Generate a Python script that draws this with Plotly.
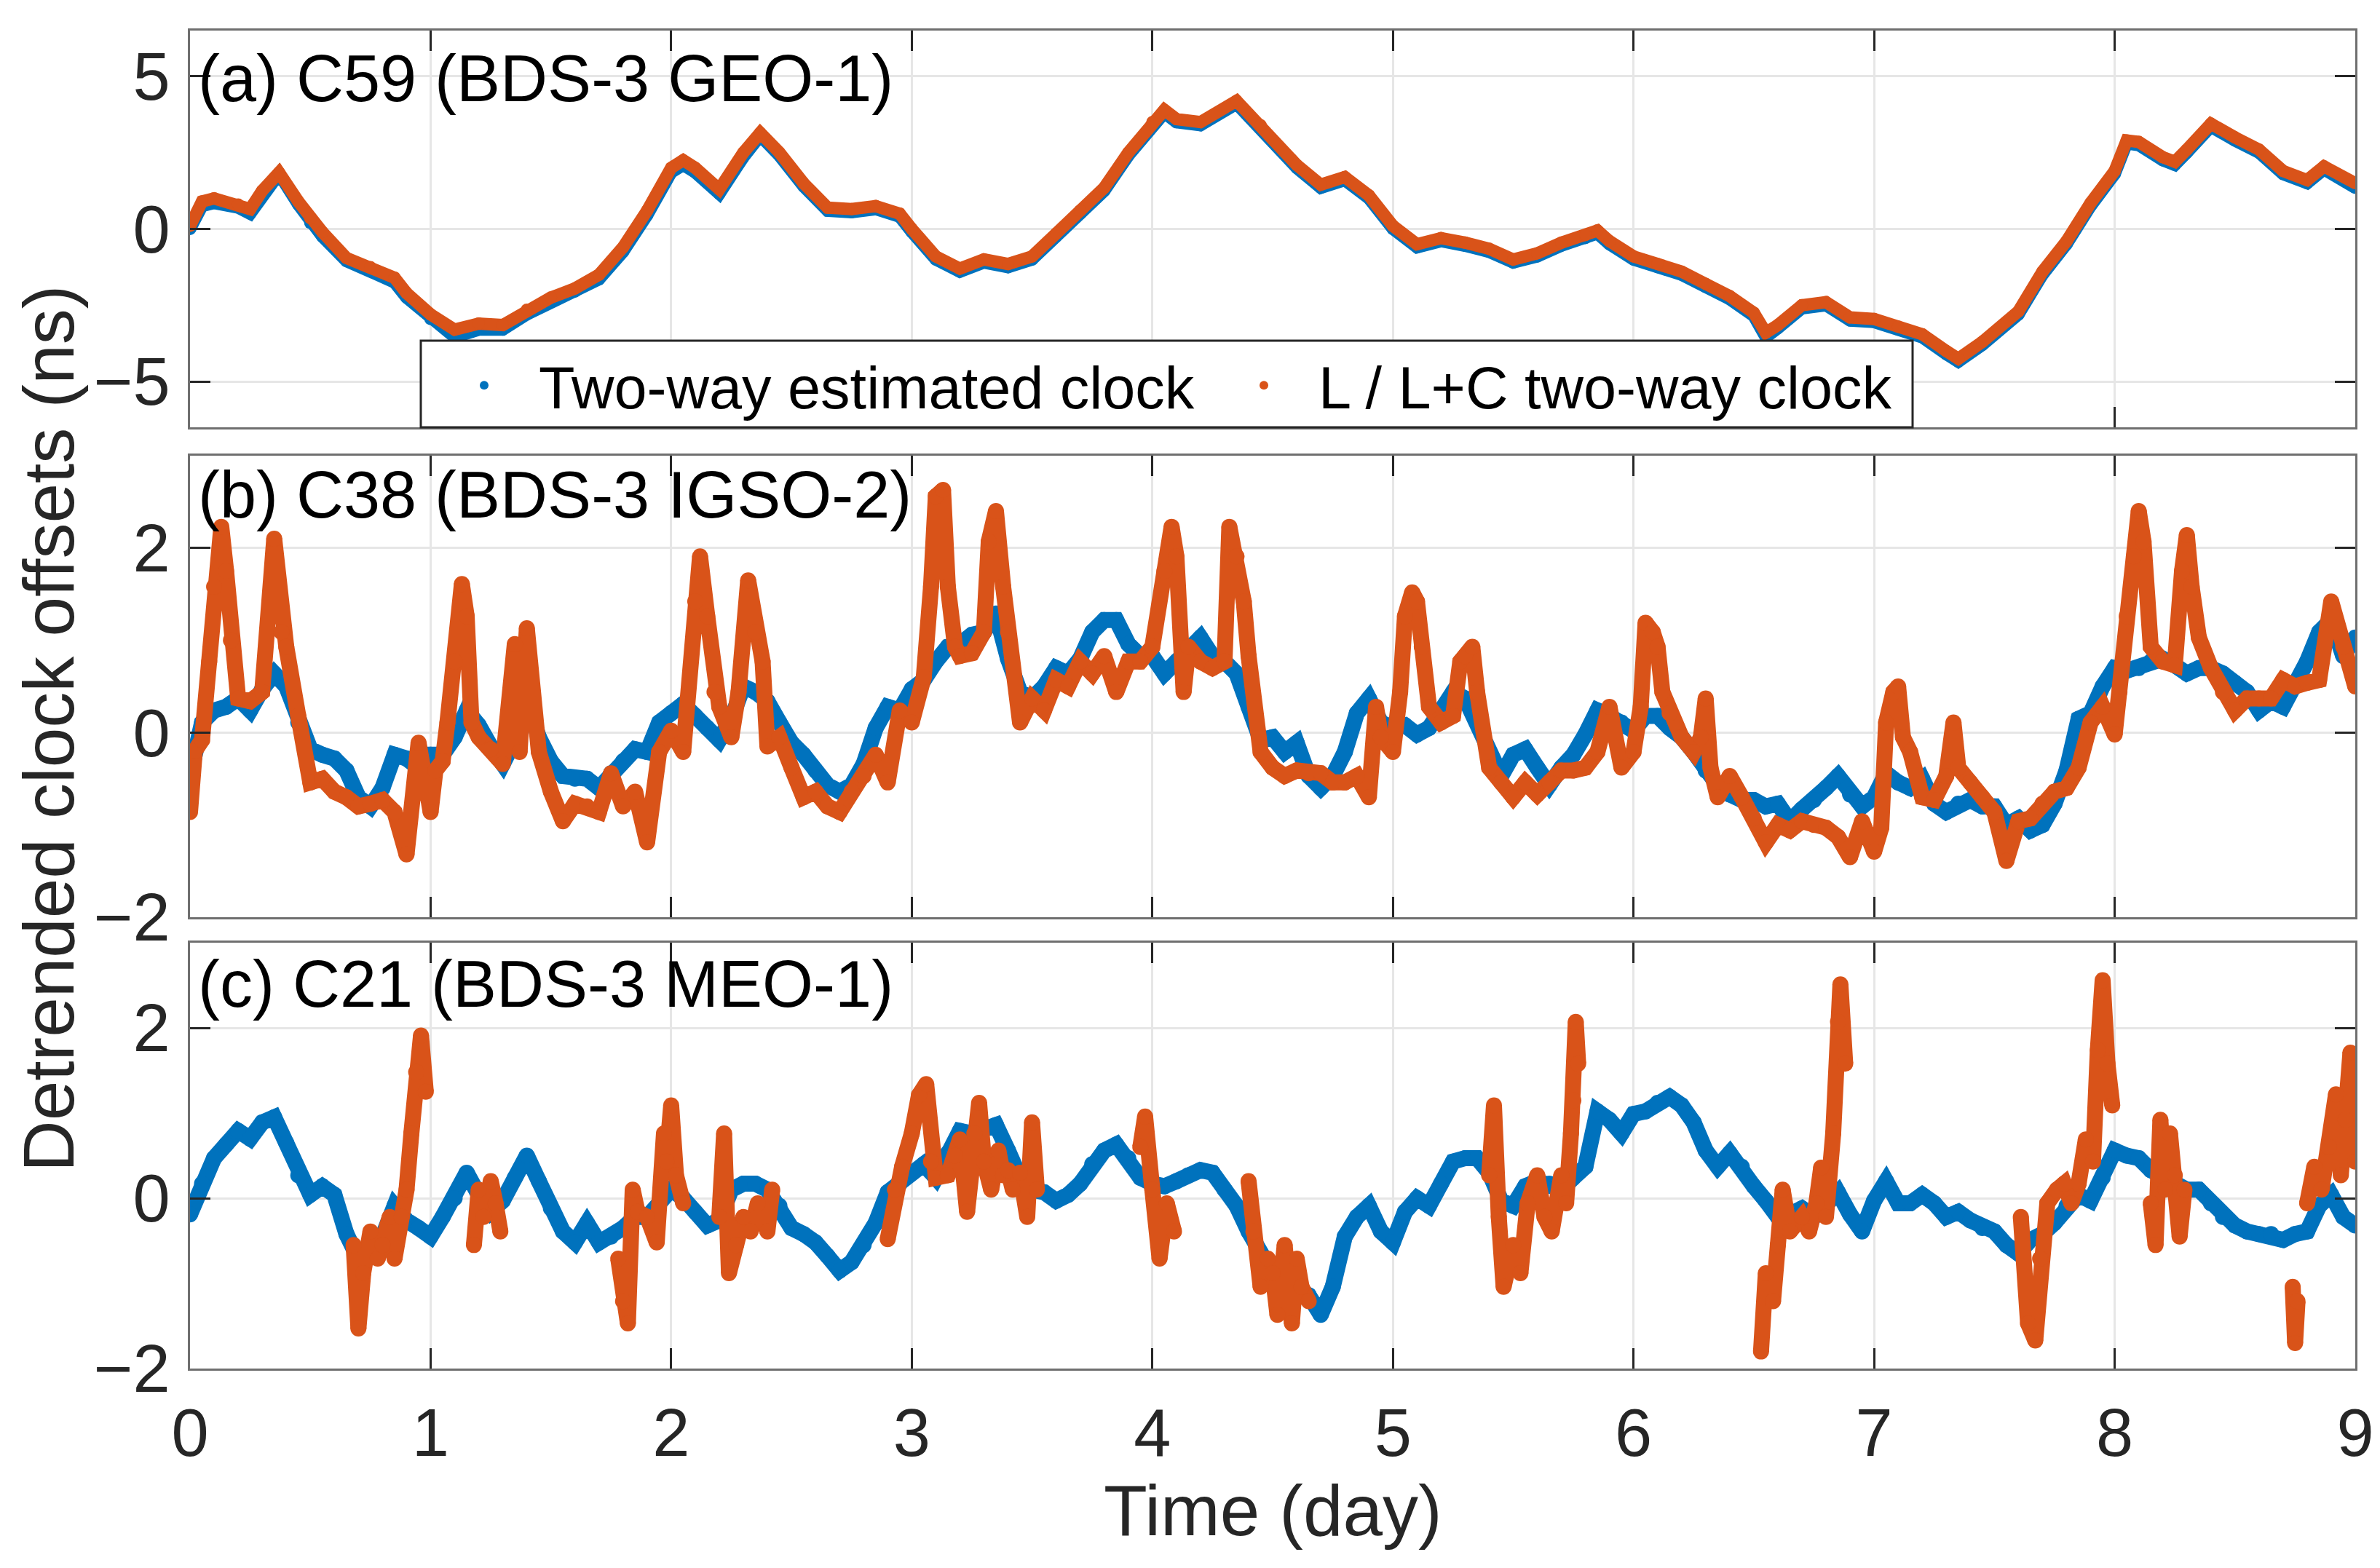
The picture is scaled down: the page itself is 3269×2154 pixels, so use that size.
import plotly.graph_objects as go

BLUE = "#0072BD"
ORANGE = "#D95319"

# ---------------- panel (a) C59 GEO-1 ----------------
days_a = [0.00, 0.05, 0.10, 0.20, 0.25, 0.30, 0.37, 0.45, 0.50, 0.55,
          0.65, 0.75, 0.85, 0.90, 1.00, 1.10, 1.20, 1.30, 1.40, 1.50,
          1.60, 1.70, 1.80, 1.90, 2.00, 2.05, 2.10, 2.20, 2.30, 2.37,
          2.45, 2.55, 2.65, 2.75, 2.85, 2.95, 3.00, 3.10, 3.20, 3.30,
          3.40, 3.50, 3.60, 3.70, 3.80, 3.90, 4.00, 4.05, 4.10, 4.20,
          4.35, 4.45, 4.60, 4.70, 4.80, 4.90, 5.00, 5.10, 5.20, 5.30,
          5.40, 5.50, 5.60, 5.70, 5.80, 5.85, 5.90, 6.00, 6.10, 6.20,
          6.30, 6.40, 6.50, 6.55, 6.60, 6.70, 6.80, 6.90, 7.00, 7.10,
          7.20, 7.30, 7.35, 7.45, 7.60, 7.70, 7.80, 7.90, 8.00, 8.05,
          8.10, 8.20, 8.25, 8.30, 8.40, 8.50, 8.60, 8.70, 8.80, 8.87,
          9.00]
lc_a = [0.10, 0.90, 1.00, 0.80, 0.65, 1.25, 1.85, 0.90, 0.35, -0.10,
        -0.95, -1.25, -1.60, -2.10, -2.80, -3.30, -3.10, -3.15, -2.65, -2.25,
        -1.95, -1.50, -0.60, 0.60, 2.00, 2.25, 2.00, 1.30, 2.50, 3.15,
        2.50, 1.50, 0.70, 0.65, 0.75, 0.50, 0.00, -0.90, -1.30, -1.00,
        -1.15, -0.90, -0.15, 0.60, 1.35, 2.50, 3.50, 3.90, 3.60, 3.50,
        4.20, 3.40, 2.10, 1.45, 1.70, 1.10, 0.10, -0.50, -0.30, -0.45,
        -0.65, -1.00, -0.80, -0.45, -0.20, -0.05, -0.40, -0.90, -1.15, -1.40,
        -1.80, -2.20, -2.75, -3.40, -3.15, -2.50, -2.40, -2.90, -2.95, -3.20,
        -3.45, -4.00, -4.25, -3.70, -2.70, -1.40, -0.40, 0.85, 1.90, 2.90,
        2.85, 2.35, 2.20, 2.60, 3.45, 3.00, 2.60, 1.90, 1.60, 2.05,
        1.50]
est_a = [0.00, 0.75, 0.85, 0.70, 0.50, 1.10, 1.80, 0.80, 0.20, -0.25,
         -1.05, -1.35, -1.75, -2.25, -2.95, -3.55, -3.30, -3.30, -2.80, -2.40,
         -2.05, -1.65, -0.75, 0.45, 1.85, 2.10, 1.85, 1.15, 2.35, 3.05,
         2.40, 1.40, 0.60, 0.55, 0.65, 0.40, -0.10, -1.00, -1.40, -1.10,
         -1.25, -1.00, -0.25, 0.50, 1.25, 2.40, 3.40, 3.80, 3.50, 3.40,
         4.10, 3.30, 2.00, 1.35, 1.60, 1.00, 0.00, -0.60, -0.40, -0.55,
         -0.75, -1.10, -0.90, -0.55, -0.30, -0.15, -0.50, -1.00, -1.25, -1.50,
         -1.90, -2.30, -2.85, -3.55, -3.25, -2.60, -2.50, -3.00, -3.05, -3.30,
         -3.55, -4.10, -4.35, -3.80, -2.80, -1.50, -0.50, 0.75, 1.80, 2.80,
         2.75, 2.25, 2.10, 2.50, 3.35, 2.90, 2.50, 1.80, 1.50, 1.95,
         1.35]

# ---------------- panel (b) C38 IGSO-2 ----------------
days_bc = [round(0.05 * i, 2) for i in range(181)]  # sampling grid of the blue series
est_b = [-0.47, 0.11, 0.24, 0.28, 0.37, 0.24, 0.47, 0.64, 0.50, 0.11,
         -0.18, -0.24, -0.28, -0.41, -0.70, -0.80, -0.60, -0.24, -0.28, -0.38,
         -0.24, -0.24, -0.05, 0.24, 0.08, -0.15, -0.34, -0.08, 0.34, -0.05,
         -0.31, -0.47, -0.50, -0.50, -0.60, -0.44, -0.31, -0.18, -0.21, 0.11,
         0.21, 0.31, 0.18, 0.05, -0.08, 0.15, 0.50, 0.44, 0.34, 0.11,
         -0.11, -0.24, -0.41, -0.57, -0.64, -0.57, -0.34, 0.05, 0.28, 0.24,
         0.47, 0.57, 0.77, 0.93, 0.96, 1.06, 1.09, 1.29, 0.80, 0.44,
         0.37, 0.50, 0.70, 0.64, 0.80, 1.09, 1.22, 1.22, 0.96, 0.83,
         0.83, 0.64, 0.77, 0.90, 1.03, 0.83, 0.77, 0.64, 0.28, -0.08,
         -0.05, -0.21, -0.11, -0.47, -0.60, -0.47, -0.21, 0.21, 0.37, 0.11,
         0.05, 0.08, -0.02, 0.05, 0.24, 0.44, 0.37, 0.11, -0.21, -0.47,
         -0.24, -0.18, -0.38, -0.57, -0.38, -0.24, -0.02, 0.24, 0.18, 0.11,
         0.02, 0.18, 0.18, 0.05, -0.05, -0.21, -0.41, -0.57, -0.67, -0.73,
         -0.73, -0.80, -0.77, -0.96, -0.83, -0.73, -0.60, -0.47, -0.67, -0.80,
         -0.70, -0.44, -0.54, -0.60, -0.50, -0.77, -0.86, -0.77, -0.73, -0.80,
         -0.80, -1.00, -0.93, -1.06, -1.00, -0.77, -0.41, 0.15, 0.21, 0.50,
         0.70, 0.67, 0.70, 0.77, 0.80, 0.73, 0.64, 0.70, 0.70, 0.64,
         0.54, 0.44, 0.24, 0.34, 0.28, 0.50, 0.77, 1.09, 1.22, 0.83,
         1.03]
days_lc_b = [0.00, 0.02, 0.05, 0.08, 0.10, 0.13, 0.15, 0.17, 0.20, 0.25,
             0.30, 0.35, 0.38, 0.40, 0.45, 0.50, 0.55, 0.60, 0.65, 0.70,
             0.75, 0.80, 0.85, 0.90, 0.95, 1.00, 1.02, 1.05, 1.07, 1.10,
             1.13, 1.15, 1.17, 1.20, 1.25, 1.30, 1.35, 1.37, 1.40, 1.45,
             1.50, 1.55, 1.60, 1.65, 1.70, 1.75, 1.80, 1.85, 1.90, 1.95,
             2.00, 2.05, 2.10, 2.12, 2.15, 2.18, 2.20, 2.25, 2.28, 2.32,
             2.35, 2.38, 2.40, 2.45, 2.50, 2.55, 2.60, 2.65, 2.70, 2.75,
             2.80, 2.85, 2.90, 2.95, 3.00, 3.05, 3.08, 3.10, 3.13, 3.15,
             3.18, 3.20, 3.25, 3.30, 3.32, 3.35, 3.38, 3.40, 3.45, 3.50,
             3.55, 3.60, 3.65, 3.70, 3.75, 3.80, 3.85, 3.90, 3.95, 4.00,
             4.05, 4.08, 4.10, 4.13, 4.15, 4.20, 4.25, 4.30, 4.32, 4.35,
             4.38, 4.40, 4.45, 4.50, 4.55, 4.60, 4.65, 4.70, 4.75, 4.80,
             4.85, 4.90, 4.93, 4.95, 5.00, 5.03, 5.05, 5.08, 5.10, 5.12,
             5.15, 5.20, 5.25, 5.28, 5.30, 5.33, 5.35, 5.40, 5.45, 5.50,
             5.55, 5.60, 5.65, 5.70, 5.75, 5.80, 5.85, 5.90, 5.95, 6.00,
             6.03, 6.05, 6.08, 6.10, 6.12, 6.15, 6.20, 6.25, 6.28, 6.30,
             6.32, 6.35, 6.40, 6.45, 6.50, 6.55, 6.60, 6.65, 6.70, 6.75,
             6.80, 6.85, 6.90, 6.95, 7.00, 7.03, 7.05, 7.08, 7.10, 7.12,
             7.15, 7.20, 7.25, 7.30, 7.33, 7.35, 7.40, 7.45, 7.50, 7.55,
             7.60, 7.65, 7.70, 7.75, 7.80, 7.85, 7.90, 7.95, 8.00, 8.02,
             8.05, 8.08, 8.10, 8.12, 8.15, 8.20, 8.25, 8.28, 8.30, 8.32,
             8.35, 8.40, 8.45, 8.50, 8.55, 8.60, 8.65, 8.70, 8.75, 8.80,
             8.85, 8.90, 8.95, 9.00]
lc_b = [-0.86, -0.20, -0.08, 0.77, 1.58, 2.23, 1.75, 1.00, 0.37, 0.34,
        0.44, 2.10, 1.09, 0.93, 0.18, -0.54, -0.50, -0.64, -0.70, -0.80,
        -0.77, -0.73, -0.86, -1.32, -0.11, -0.86, -0.41, -0.31, 0.11, 0.77,
        1.61, 1.26, 0.11, -0.05, -0.18, -0.34, 0.96, -0.21, 1.13, -0.21,
        -0.64, -0.96, -0.77, -0.80, -0.86, -0.44, -0.80, -0.64, -1.19, -0.21,
        0.02, -0.21, 1.42, 1.91, 1.26, 0.44, 0.28, -0.05, 0.44, 1.65,
        1.09, 0.77, -0.15, -0.05, -0.38, -0.70, -0.64, -0.80, -0.86, -0.64,
        -0.47, -0.24, -0.54, 0.24, 0.11, 0.60, 1.58, 2.56, 2.63, 1.58,
        0.93, 0.83, 0.86, 1.09, 2.07, 2.40, 1.58, 1.09, 0.11, 0.37,
        0.24, 0.57, 0.50, 0.77, 0.64, 0.83, 0.44, 0.77, 0.77, 0.93,
        1.75, 2.23, 1.91, 0.44, 0.93, 0.77, 0.70, 0.77, 2.23, 1.91,
        1.42, 0.83, -0.21, -0.38, -0.47, -0.41, -0.44, -0.44, -0.54, -0.54,
        -0.47, -0.70, 0.28, -0.05, -0.21, 0.44, 1.26, 1.52, 1.42, 0.93,
        0.28, 0.11, 0.18, 0.77, 0.83, 0.93, 0.44, -0.38, -0.54, -0.70,
        -0.54, -0.67, -0.54, -0.41, -0.41, -0.38, -0.21, 0.28, -0.38, -0.21,
        0.28, 1.19, 1.09, 0.93, 0.44, 0.21, -0.05, -0.21, -0.05, 0.37,
        -0.38, -0.70, -0.47, -0.70, -0.93, -1.19, -1.00, -1.06, -0.96, -1.00,
        -1.03, -1.13, -1.35, -0.96, -1.29, -1.03, 0.11, 0.44, 0.50, -0.05,
        -0.21, -0.70, -0.73, -0.47, 0.11, -0.38, -0.54, -0.70, -0.86, -1.39,
        -0.96, -0.93, -0.77, -0.64, -0.60, -0.38, 0.11, 0.28, -0.02, 0.44,
        1.26, 1.91, 2.40, 2.07, 0.93, 0.77, 0.73, 1.75, 2.14, 1.58,
        1.03, 0.70, 0.44, 0.24, 0.37, 0.37, 0.37, 0.57, 0.50, 0.54,
        0.57, 1.42, 0.93, 0.50]

# ---------------- panel (c) C21 MEO-1 ----------------
est_c = [-0.19, 0.17, 0.47, 0.63, 0.79, 0.70, 0.89, 0.95, 0.65, 0.27,
         0.04, 0.14, 0.04, -0.42, -0.71, -0.62, -0.45, -0.09, -0.26, -0.35,
         -0.45, -0.22, 0.00, 0.30, 0.04, -0.16, -0.03, 0.24, 0.50, 0.20,
         -0.12, -0.39, -0.52, -0.29, -0.52, -0.45, -0.35, -0.22, -0.22, -0.06,
         0.10, 0.00, -0.16, -0.32, -0.26, 0.10, 0.17, 0.17, 0.10, -0.09,
         -0.35, -0.42, -0.52, -0.68, -0.85, -0.75, -0.55, -0.29, 0.07, 0.17,
         0.30, 0.40, 0.24, 0.53, 0.79, 0.76, 0.83, 0.86, 0.56, 0.24,
         0.10, 0.07, -0.03, 0.04, 0.17, 0.40, 0.56, 0.63, 0.47, 0.24,
         0.17, 0.14, 0.20, 0.27, 0.33, 0.30, 0.10, -0.09, -0.39, -0.68,
         -0.88, -0.98, -1.04, -1.14, -1.37, -1.04, -0.45, -0.22, -0.09, -0.39,
         -0.52, -0.16, 0.00, -0.09, 0.17, 0.43, 0.47, 0.47, 0.30, -0.03,
         -0.09, 0.14, 0.20, 0.17, 0.10, 0.24, 0.37, 1.02, 0.92, 0.76,
         0.99, 1.02, 1.12, 1.19, 1.09, 0.89, 0.56, 0.37, 0.53, 0.37,
         0.14, -0.03, -0.22, -0.19, -0.12, -0.22, -0.09, 0.07, -0.19, -0.39,
         -0.03, 0.20, -0.06, -0.06, 0.04, -0.06, -0.22, -0.16, -0.26, -0.35,
         -0.39, -0.55, -0.65, -0.49, -0.42, -0.29, -0.09, 0.04, -0.03, 0.24,
         0.56, 0.50, 0.47, 0.33, 0.27, 0.17, 0.10, 0.10, -0.06, -0.22,
         -0.32, -0.39, -0.42, -0.42, -0.49, -0.42, -0.39, -0.09, 0.04, -0.22,
         -0.32]
# the L / L+C clock has gaps in (c); None breaks the trace
days_lc_c = [0.68, 0.70, 0.72, 0.75, 0.78, 0.80, 0.83, 0.85, 0.88, 0.90, 0.92, 0.94, 0.96, 0.98, None,
             1.18, 1.20, 1.22, 1.25, 1.27, 1.29, None,
             1.78, 1.80, 1.82, 1.84, 1.86, 1.90, 1.94, 1.97, 1.98, 2.00, 2.02, 2.05, None,
             2.20, 2.22, 2.24, 2.27, 2.30, 2.33, 2.36, 2.40, 2.42, None,
             2.90, 2.93, 2.96, 3.00, 3.03, 3.06, 3.08, 3.10, 3.15, 3.18, 3.20, 3.23,
             3.26, 3.28, 3.30, 3.33, 3.36, 3.38, 3.40, 3.42, 3.45, 3.48, 3.50, 3.52, None,
             3.95, 3.97, 4.00, 4.03, 4.06, 4.09, None,
             4.40, 4.42, 4.45, 4.48, 4.50, 4.52, 4.55, 4.58, 4.60, 4.62, 4.65, None,
             5.40, 5.42, 5.44, 5.46, 5.50, 5.53, 5.56, 5.60, 5.63, 5.66, 5.70, 5.72,
             5.74, 5.75, 5.76, 5.77, None,
             6.53, 6.55, 6.58, 6.60, 6.62, 6.65, 6.70, 6.73, 6.76, 6.78, 6.80, 6.83,
             6.85, 6.86, 6.88, None,
             7.61, 7.64, 7.67, 7.69, 7.72, 7.76, 7.79, 7.82, 7.85, 7.88, 7.91, 7.93,
             7.95, 7.97, 7.99, None,
             8.15, 8.17, 8.19, 8.21, 8.23, 8.25, 8.27, 8.29, None,
             8.74, 8.75, 8.76, None,
             8.80, 8.83, 8.86, 8.89, 8.92, 8.94, 8.96, 8.98, 9.00]
lc_c = [-0.55, -1.53, -0.88, -0.39, -0.71, -0.55, -0.22, -0.71, -0.22, 0.10, 0.76, 1.48, 1.91, 1.25, None,
        -0.55, 0.10, -0.22, 0.20, -0.06, -0.39, None,
        -0.71, -1.21, -1.47, 0.10, -0.16, -0.22, -0.52, 0.76, 0.43, 1.09, 0.27, -0.06, None,
        -0.22, 0.76, -0.88, -0.55, -0.22, -0.39, -0.06, -0.39, 0.10, None,
        -0.48, 0.10, 0.37, 0.76, 1.21, 1.34, 0.43, 0.24, 0.27, 0.50, 0.69, -0.16,
        0.76, 1.12, 0.43, 0.10, 0.56, 0.27, 0.33, 0.10, 0.30, -0.22, 0.89, 0.10, None,
        0.60, 0.96, 0.10, -0.71, -0.06, -0.39, None,
        0.20, -0.39, -1.04, -0.71, -0.88, -1.37, -0.55, -1.47, -0.71, -1.04, -1.21, None,
        0.27, 1.09, -0.22, -1.04, -0.55, -0.88, -0.06, 0.27, -0.22, -0.39, 0.27, -0.06,
        0.76, 1.15, 2.07, 1.58, None,
        -1.80, -0.88, -1.21, -0.55, 0.10, -0.39, -0.22, -0.39, -0.06, 0.36, -0.22, 0.76,
        2.07, 2.51, 1.58, None,
        -0.22, -1.47, -1.67, -0.71, -0.06, 0.10, 0.17, -0.06, 0.17, 0.69, 0.43, 1.74,
        2.56, 1.58, 1.09, None,
        -0.06, -0.55, 0.92, 0.10, 0.76, 0.27, -0.45, 0.10, None,
        -1.04, -1.70, -1.21, None,
        -0.06, 0.37, 0.10, 0.60, 1.22, 0.27, 0.92, 1.71, 0.43]

panel_labels = ["(a) C59 (BDS-3 GEO-1)", "(b) C38 (BDS-3 IGSO-2)", "(c) C21 (BDS-3 MEO-1)"]
legend_names = ["Two-way estimated clock", "L / L+C two-way clock"]
y_ranges = [[-6.5, 6.5], [-2, 3], [-2, 3]]
y_ticks = [[-5, 0, 5], [-2, 0, 2], [-2, 0, 2]]
x_ticks = list(range(10))

W, H = 3269, 2154
OFF = 8  # the page body adds an 8 px margin; place everything 8 px up/left to compensate


def px(x):
    return (x - OFF) / W


def py(y):
    return 1 - (y - OFF) / H


x_dom = [px(261), px(3235)]
y_doms = [[py(587), py(42)], [py(1260), py(626)], [py(1880), py(1295)]]
label_y = [py(108), py(680), py(1352)]

FONT = "Liberation Sans, Arial, sans-serif"

fig = go.Figure()

series = [
    (days_a, est_a, days_a, lc_a, 17),
    (days_bc, est_b, days_lc_b, lc_b, 22),
    (days_bc, est_c, days_lc_c, lc_c, 22),
]
for i, (tx, ey, lx, ly, lw) in enumerate(series):
    xa = "x" if i == 0 else f"x{i + 1}"
    ya = "y" if i == 0 else f"y{i + 1}"
    fig.add_trace(go.Scatter(
        x=tx, y=ey, mode="lines+markers", xaxis=xa, yaxis=ya,
        line=dict(color=BLUE, width=lw), marker=dict(color=BLUE, size=lw),
        showlegend=False, hoverinfo="skip",
    ))
    fig.add_trace(go.Scatter(
        x=lx, y=ly, mode="lines+markers", xaxis=xa, yaxis=ya, connectgaps=False,
        line=dict(color=ORANGE, width=lw), marker=dict(color=ORANGE, size=lw),
        showlegend=False, hoverinfo="skip",
    ))

# legend entries (MATLAB style dot markers)
for name, col in zip(legend_names, [BLUE, ORANGE]):
    fig.add_trace(go.Scatter(
        x=[None], y=[None], mode="markers", name=name,
        marker=dict(color=col, size=12), xaxis="x", yaxis="y",
    ))

axis_common = dict(
    showline=True, linecolor="#6f6f6f", linewidth=3, mirror="ticks",
    ticks="inside", ticklen=28, tickwidth=3, tickcolor="#262626",
    showgrid=True, gridcolor="#e6e6e6", gridwidth=3, zeroline=False,
    automargin=False,
    tickfont=dict(family=FONT, size=92, color="#262626"),
)

layout = dict(
    width=W, height=H,
    margin=dict(l=0, r=0, t=0, b=0, pad=0, autoexpand=False),
    paper_bgcolor="white", plot_bgcolor="white",
    font=dict(family=FONT, color="#262626"),
    showlegend=True,
    legend=dict(
        orientation="h", x=px(590), y=py(470), xanchor="left", yanchor="top",
        bgcolor="rgba(0,0,0,0)", borderwidth=0,
        font=dict(family=FONT, size=81, color="black"),
        entrywidth=916, entrywidthmode="pixels", itemwidth=140,
    ),
    # legend frame, as in the reference
    shapes=[dict(
        type="rect", xref="paper", yref="paper", layer="above",
        x0=px(578), x1=px(2627), y0=py(587), y1=py(468),
        line=dict(color="#262626", width=3), fillcolor="white",
    )],
)
for i in range(3):
    xk = "xaxis" if i == 0 else f"xaxis{i + 1}"
    yk = "yaxis" if i == 0 else f"yaxis{i + 1}"
    xa_anchor = "y" if i == 0 else f"y{i + 1}"
    ya_anchor = "x" if i == 0 else f"x{i + 1}"
    layout[xk] = dict(
        axis_common, domain=x_dom, anchor=xa_anchor, range=[0, 9],
        tickvals=x_ticks, showticklabels=(i == 2), ticklabelstandoff=7,
    )
    layout[yk] = dict(
        axis_common, domain=y_doms[i], anchor=ya_anchor, range=y_ranges[i],
        tickvals=y_ticks[i], ticklabelstandoff=6,
    )

annotations = []
for i, txt in enumerate(panel_labels):
    annotations.append(dict(
        text=txt, x=px(270), y=label_y[i], xref="paper", yref="paper",
        xanchor="left", yanchor="middle", showarrow=False,
        font=dict(family=FONT, size=90, color="black"),
    ))
annotations.append(dict(
    text="Detrended clock offsets (ns)", x=px(67), y=py(1001),
    xref="paper", yref="paper", xanchor="center", yanchor="middle",
    textangle=-90, showarrow=False, font=dict(family=FONT, size=98, color="#262626"),
))
annotations.append(dict(
    text="Time (day)", x=px(1748), y=py(2075),
    xref="paper", yref="paper", xanchor="center", yanchor="middle",
    showarrow=False, font=dict(family=FONT, size=98, color="#262626"),
))
layout["annotations"] = annotations

fig.update_layout(layout)
fig.write_html("out.html")
